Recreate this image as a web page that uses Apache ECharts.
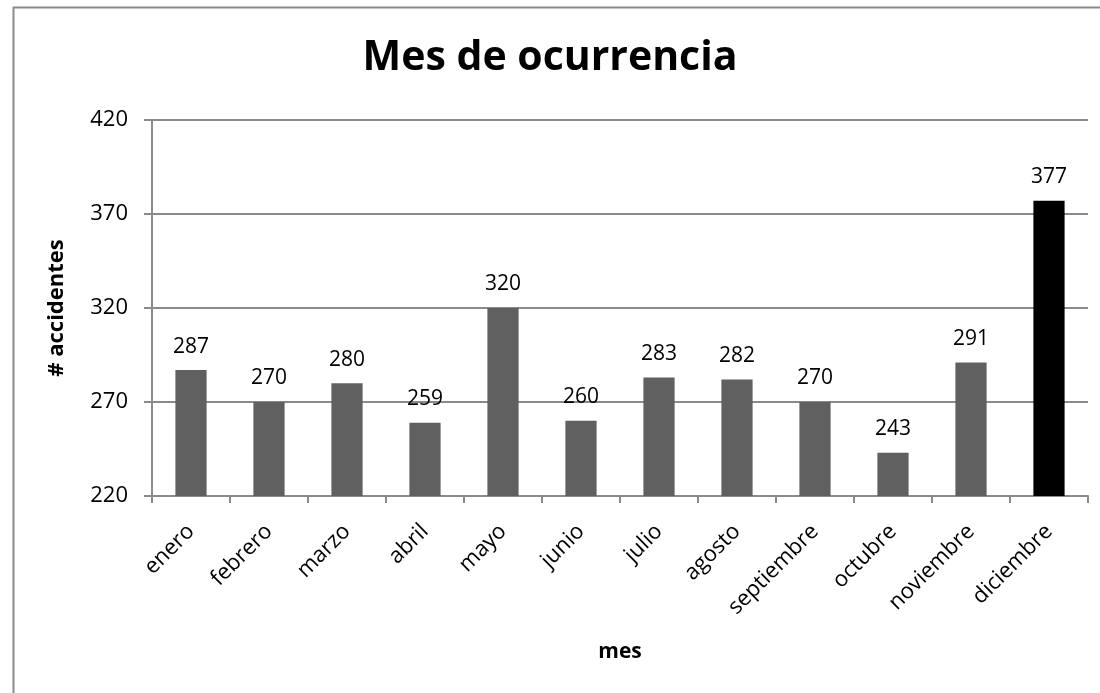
<!DOCTYPE html>
<html lang="es">
<head>
    <meta charset="UTF-8">
    <title>Mes de ocurrencia</title>
    <style>
        html, body { margin: 0; padding: 0; background: #fff; }
    </style>
</head>
<body>
<div id="main" style="width: 1100px;height:693px;"></div>
<script src="https://cdn.jsdelivr.net/npm/echarts@6/dist/echarts.min.js"></script>
<script>
    var meses = ['enero', 'febrero', 'marzo', 'abril', 'mayo', 'junio', 'julio', 'agosto', 'septiembre', 'octubre', 'noviembre', 'diciembre'];
    var accidentes = [287, 270, 280, 259, 320, 260, 283, 282, 270, 243, 291, 377];
    var destacado = 'diciembre';

    var font = '"Open Sans", "Noto Sans", sans-serif';
    var myChart = echarts.init(document.getElementById('main'));

    var barData = [];
    for (var i = 0; i < meses.length; i++) {
        barData.push({
            value: accidentes[i],
            itemStyle: { color: meses[i] === destacado ? '#000000' : '#606060' }
        });
    }

    var option = {
        backgroundColor: '#fff',
        animation: false,
        title: {
            text: 'Mes de ocurrencia',
            left: 'center',
            top: 33,
            textStyle: { fontFamily: font, fontSize: 41, fontWeight: 'bold', color: '#000' }
        },
        graphic: [{
            type: 'rect',
            shape: { x: 13.5, y: 7.5, width: 1200, height: 1000 },
            style: { fill: 'none', stroke: '#8a8a8a', lineWidth: 2 },
            silent: true
        }],
        grid: { left: 152, right: 12, top: 120, bottom: 197 },
        xAxis: {
            type: 'category',
            data: meses,
            name: 'mes',
            nameLocation: 'middle',
            nameGap: 146,
            nameTextStyle: { fontFamily: font, fontSize: 21, fontWeight: 'bold', color: '#000' },
            axisLine: { lineStyle: { color: '#8a8a8a', width: 2 } },
            axisTick: { show: true, length: 7, lineStyle: { color: '#8a8a8a', width: 2 } },
            axisLabel: { rotate: 45, fontFamily: font, fontSize: 22, color: '#000', margin: 32, interval: 0 }
        },
        yAxis: {
            type: 'value',
            min: 220,
            max: 420,
            interval: 50,
            name: '# accidentes',
            nameLocation: 'middle',
            nameGap: 84,
            nameTextStyle: { fontFamily: font, fontSize: 22, fontWeight: 'bold', color: '#000' },
            axisLine: { show: true, lineStyle: { color: '#8a8a8a', width: 2 } },
            axisTick: { show: true, length: 8, lineStyle: { color: '#8a8a8a', width: 2 } },
            axisLabel: { fontFamily: font, fontSize: 22, color: '#000', margin: 24 },
            splitLine: { show: true, lineStyle: { color: '#8a8a8a', width: 2 } }
        },
        series: [{
            type: 'bar',
            data: barData,
            barWidth: '40%',
            label: {
                show: true,
                position: 'top',
                distance: 13,
                fontFamily: font,
                fontSize: 21,
                color: '#000'
            }
        }]
    };

    myChart.setOption(option);
</script>
</body>
</html>
